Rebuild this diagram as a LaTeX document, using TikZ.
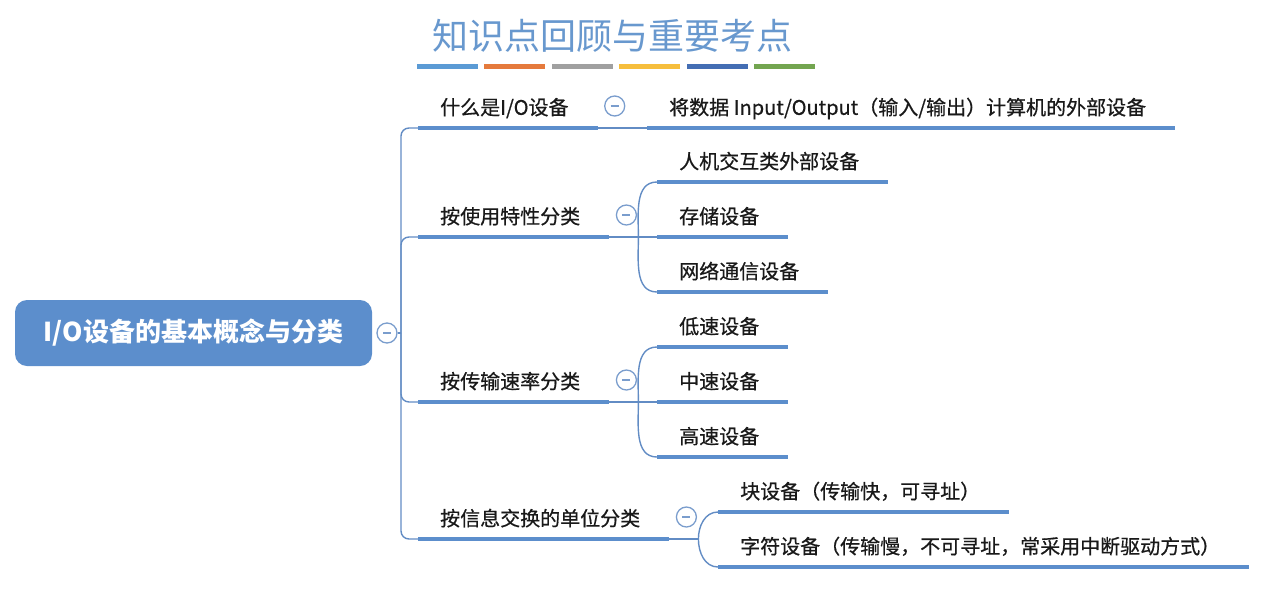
\documentclass[tikz,border=0pt]{standalone}
\usepackage{fontspec}
\setmainfont{Noto Sans CJK SC}
\newfontfamily\mapfont[FakeBold=0.6]{Noto Sans CJK SC}
\usepackage{tikz}
\usetikzlibrary{positioning}
\definecolor{mapBlue}{RGB}{92,142,204}
\definecolor{lineBlue}{RGB}{98,140,196}
\definecolor{titleBlue}{RGB}{104,152,206}
\definecolor{barBlue}{RGB}{91,155,213}
\definecolor{barOrange}{RGB}{229,122,60}
\definecolor{barGray}{RGB}{160,160,160}
\definecolor{barYellow}{RGB}{246,190,60}
\definecolor{barNavy}{RGB}{68,110,180}
\definecolor{barGreen}{RGB}{115,165,80}
\tikzstyle{rootBox} = [rectangle, rounded corners=12pt, fill=mapBlue, text=white, font=\fontsize{26}{30}\selectfont\bfseries, minimum width=357pt, minimum height=66pt]
\tikzstyle{topic} = [anchor=south west, font=\fontsize{20}{24}\mapfont, text=black!90, text height=17pt, text depth=4pt, inner xsep=22pt, inner ysep=9pt, execute at end node={\hspace*{7pt}}]
\tikzstyle{underline} = [draw=mapBlue, line width=4.5pt]
\tikzstyle{link} = [draw=lineBlue, line width=1.4pt]
\tikzstyle{foldNode} = [
                circle,
                minimum size=20pt,
                inner sep=0pt,
                fill=white,
                draw=lineBlue!85,
                line width=1.3pt
            ]
\newcommand{\foldmark}{\textcolor{lineBlue!85}{\rule{8pt}{1.4pt}}}

\begin{document}
\begin{tikzpicture}[x=1pt, y=-1pt]
                            \useasboundingbox (0,0) rectangle (1266,600);
                            \node (title) [font=\fontsize{36}{40}\selectfont, text=titleBlue] at (612,36) {知识点回顾与重要考点};
                            \foreach \c [count=\i from 0] in {barBlue,barOrange,barGray,barYellow,barNavy,barGreen}
                                \fill [\c] (417+67.4*\i,64) rectangle ++(61,5);
                            \node (root) [rootBox] at (193.5,333) {I/O设备的基本概念与分类};
                            \node (rootDot) [foldNode] at (387,333) {\foldmark};
                            \coordinate (hub) at (401,333);
                            \node (what) [topic] at (418,128) {什么是I/O设备};
                            \node (use) [topic] at (418,237) {按使用特性分类};
                            \node (speed) [topic] at (418,402) {按传输速率分类};
                            \node (unit) [topic] at (418,539) {按信息交换的单位分类};
                            \node (io) [topic] at (647,128) {将数据 Input/Output（输入/输出）计算机的外部设备};
                            \node (hci) [topic] at (657,182) {人机交互类外部设备};
                            \node (store) [topic] at (657,237) {存储设备};
                            \node (net) [topic] at (657,292) {网络通信设备};
                            \node (low) [topic] at (657,347) {低速设备};
                            \node (mid) [topic] at (657,402) {中速设备};
                            \node (high) [topic] at (657,457) {高速设备};
                            \node (block) [topic] at (718,512) {块设备（传输快，可寻址）};
                            \node (char) [topic] at (718,567) {字符设备（传输慢，不可寻址，常采用中断驱动方式）};
                            \draw [link] (rootDot) -- (hub);
                            \draw [link, rounded corners=8pt] (hub) |- (what.south west);
                            \draw [link, rounded corners=8pt] (hub) |- (use.south west);
                            \draw [link, rounded corners=8pt] (hub) |- (speed.south west);
                            \draw [link, rounded corners=8pt] (hub) |- (unit.south west);
                            \draw [link] (what.south east) -- (io.south west);
                            \draw [link] (use.south east) -- ++(29,0) coordinate (useJ);
                            \draw [link] (useJ) to [out=90, in=180] (hci.south west);
                            \draw [link] (useJ) -- (store.south west);
                            \draw [link] (useJ) to [out=-90, in=180] (net.south west);
                            \draw [link] (speed.south east) -- ++(29,0) coordinate (speedJ);
                            \draw [link] (speedJ) to [out=90, in=180] (low.south west);
                            \draw [link] (speedJ) -- (mid.south west);
                            \draw [link] (speedJ) to [out=-90, in=180] (high.south west);
                            \draw [link] (unit.south east) -- ++(29,0) coordinate (unitJ);
                            \draw [link] (unitJ) to [out=90, in=180] (block.south west);
                            \draw [link] (unitJ) to [out=-90, in=180] (char.south west);
                            \foreach \n in {what,use,speed,unit,io,hci,store,net,low,mid,high,block,char}
                                \draw [underline] (\n.south west) -- (\n.south east);
                            \node (whatDot) [foldNode, xshift=17pt, yshift=22pt] at (what.south east) {\foldmark};
                            \node (useDot) [foldNode, xshift=17pt, yshift=22pt] at (use.south east) {\foldmark};
                            \node (speedDot) [foldNode, xshift=17pt, yshift=22pt] at (speed.south east) {\foldmark};
                            \node (unitDot) [foldNode, xshift=17pt, yshift=22pt] at (unit.south east) {\foldmark};
                        \end{tikzpicture}
\end{document}
